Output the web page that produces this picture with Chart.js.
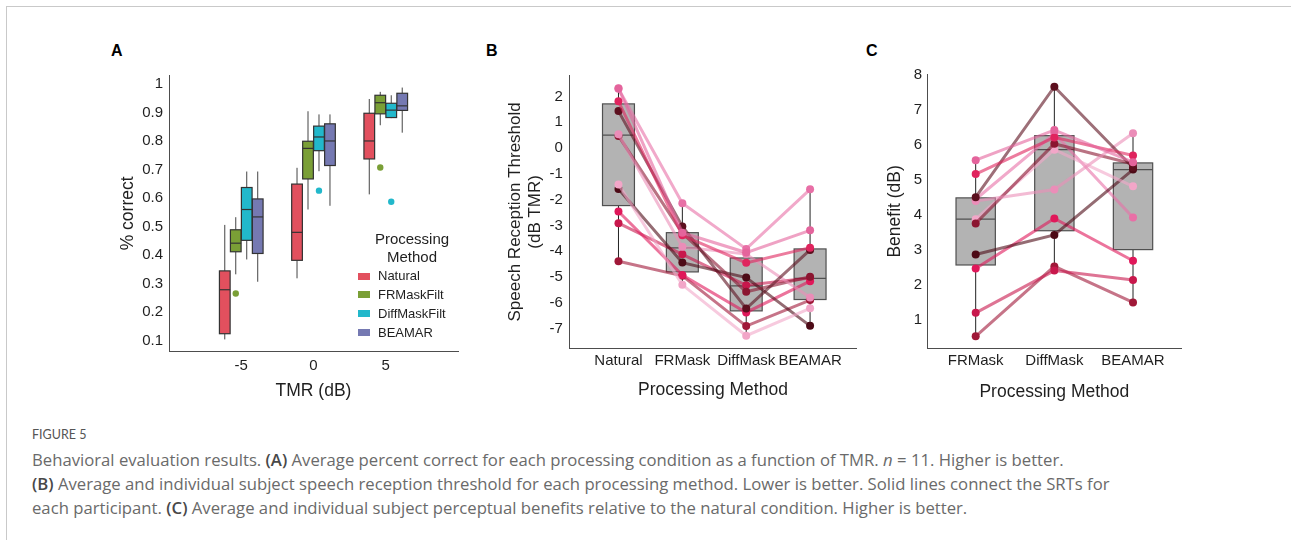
<!DOCTYPE html>
<html>
<head>
<meta charset="utf-8">
<script src="https://cdn.jsdelivr.net/npm/chart.js@4.4.1/dist/chart.umd.min.js"></script>
<style>
  body { margin: 0; background: #fff; width: 1291px; height: 540px; overflow: hidden; position: relative; font-family: "Liberation Sans", Arial, sans-serif; }
  .frame { position: absolute; left: 6px; top: 6px; width: 1400px; height: 700px; border-left: 1.5px solid #c9c9c9; border-top: 1.5px solid #c9c9c9; }
  canvas { position: absolute; }
  .panel { position: absolute; font: bold 16px "Liberation Sans", Arial, sans-serif; line-height: 16px; color: #000; }
  #legendA { position: absolute; left: 0; top: 0; font-family: "Liberation Sans", Arial, sans-serif; color: #1f1f1f; }
  .lg-title { position: absolute; left: 352px; top: 230px; width: 120px; text-align: center; font-size: 15px; line-height: 17.7px; }
  .lg-sw { position: absolute; width: 12px; height: 7px; }
  .lg-tx { position: absolute; font-size: 13px; line-height: 16px; white-space: nowrap; }
  .figno { position: absolute; left: 32px; top: 427px; font: 12.5px Lato, "Open Sans", sans-serif; color: #555; letter-spacing: 0; }
  .caption { position: absolute; left: 32px; top: 448px; margin: 0; font: 16.7px/24px "Open Sans", Lato, sans-serif; color: #6a6a6a; white-space: nowrap; }
  .caption b { color: #484848; font-weight: 600; }
</style>
</head>
<body>
<div class="frame"></div>
<div class="panel" style="left:111px; top:43px;">A</div>
<div class="panel" style="left:486px; top:43px;">B</div>
<div class="panel" style="left:866px; top:43px;">C</div>
<canvas id="chartA" width="370" height="350" style="left:100px; top:60px;"></canvas>
<canvas id="chartB" width="390" height="350" style="left:480px; top:60px;"></canvas>
<canvas id="chartC" width="331" height="350" style="left:860px; top:60px;"></canvas>
<div id="legendA"><div class="lg-title">Processing<br>Method</div></div>
<div class="figno">FIGURE 5</div>
<p class="caption">Behavioral evaluation results. <b>(A)</b> Average percent correct for each processing condition as a function of TMR. <i>n</i> = 11. Higher is better.<br><b>(B)</b> Average and individual subject speech reception threshold for each processing method. Lower is better. Solid lines connect the SRTs for<br>each participant. <b>(C)</b> Average and individual subject perceptual benefits relative to the natural condition. Higher is better.</p>
<script>
// ---- panel A: % correct vs TMR, box stats are [low whisker, q1, median, q3, high whisker]
const tmrLevels = [-5, 0, 5]
const methodsA = ['Natural', 'FRMaskFilt', 'DiffMaskFilt', 'BEAMAR']
const naturalStats = [[0.105, 0.125, 0.279, 0.345, 0.506], [0.319, 0.382, 0.480, 0.649, 0.706], [0.613, 0.737, 0.800, 0.897, 0.947]]
const frMaskFiltStats = [[0.333, 0.412, 0.442, 0.489, 0.533], [0.560, 0.667, 0.774, 0.799, 0.904], [0.855, 0.895, 0.934, 0.960, 0.972]]
const diffMaskFiltStats = [[0.385, 0.452, 0.560, 0.637, 0.693], [0.694, 0.766, 0.814, 0.852, 0.893], [0.880, 0.882, 0.908, 0.932, 0.960]]
const beamarStats = [[0.307, 0.406, 0.534, 0.597, 0.693], [0.573, 0.714, 0.800, 0.860, 0.893], [0.829, 0.907, 0.923, 0.967, 0.987]]
const frMaskFiltOutliers = [0.266, null, 0.707]
const diffMaskFiltOutliers = [null, 0.626, 0.587]
const pctTicks = [0.1, 0.2, 0.3, 0.4, 0.5, 0.6, 0.7, 0.8, 0.9, 1]

// ---- panel B: speech reception threshold per subject (dB TMR)
const srtCategories = ['Natural', 'FRMask', 'DiffMask', 'BEAMAR']
const srtSubjects = [
    [2.32, -3.28, -4.05, -3.19],
    [1.81, -3.38, -4.45, -3.86],
    [1.43, -3.04, -6.22, -3.95],
    [0.53, -3.83, -4.11, -5.79],
    [0.47, -3.30, -5.57, -4.99],
    [-1.41, -5.30, -7.27, -6.21],
    [-1.59, -4.44, -5.02, -6.89],
    [-2.46, -4.92, -6.37, -5.16],
    [-2.91, -4.12, -5.32, -5.04],
    [-4.39, -4.95, -6.90, -5.89],
    [2.30, -2.14, -3.91, -1.60]
]
const srtStats = [[-4.39, -2.23, 0.50, 1.71, 2.32], [-5.30, -4.80, -3.87, -3.28, -2.14], [-7.27, -6.31, -5.34, -4.26, -3.91], [-6.89, -5.87, -5.05, -3.91, -1.60]]
const srtTicks = [-7, -6, -5, -4, -3, -2, -1, 0, 1, 2]

// ---- panel C: benefit relative to natural (dB)
const benefitCategories = ['FRMask', 'DiffMask', 'BEAMAR']
const benefitSubjects = [
    [5.57, 6.43, 5.51],
    [5.17, 6.22, 5.70],
    [4.51, 7.67, 5.36],
    [4.40, 4.73, 6.34],
    [3.76, 6.04, 5.46],
    [3.88, 5.87, 4.82],
    [2.87, 3.43, 5.30],
    [2.47, 3.90, 2.69],
    [1.20, 2.41, 2.14],
    [0.53, 2.53, 1.50],
    [4.45, 6.33, 3.93]
]
const benefitStats = [[0.53, 2.57, 3.88, 4.49, 5.57], [2.41, 3.55, 5.87, 6.27, 7.67], [1.50, 3.01, 5.30, 5.49, 6.34]]
const benefitTicks = [1, 2, 3, 4, 5, 6, 7, 8]

// styles
const methodColors = ['#e2505e', '#7a9f36', '#22b8cb', '#7579b2']
const subjectColors = ['#e4649c', '#e0245e', '#5c0f1e', '#eb8db8', '#8b1530', '#f2a6c8', '#4d0a16', '#e0185a', '#c8184c', '#a01838', '#e86fa6']
const groupOffsets = [-1.14, -0.38, 0.38, 1.14]
const textColor = '#1f1f1f'
const tickFont = { family: '"Liberation Sans", Arial, sans-serif', size: 15 }
const titleFont = { family: '"Liberation Sans", Arial, sans-serif', size: 17.5 }

// draws box + whiskers + median through the chart's scales
function makeBoxPlugin(items, edge, whisker) {
    return {
        id: 'boxes',
        beforeDatasetsDraw(chart) {
            const { ctx, scales: { x, y } } = chart
            ctx.save()
            items.forEach(b => {
                const xl = x.getPixelForValue(b.x - b.w / 2)
                const xr = x.getPixelForValue(b.x + b.w / 2)
                const xc = x.getPixelForValue(b.x)
                const s = b.stats.map(v => y.getPixelForValue(v))
                ctx.strokeStyle = whisker
                ctx.lineWidth = 1
                ctx.beginPath()
                ctx.moveTo(xc, s[0]); ctx.lineTo(xc, s[1])
                ctx.moveTo(xc, s[3]); ctx.lineTo(xc, s[4])
                ctx.stroke()
                ctx.fillStyle = b.fill
                ctx.fillRect(xl, s[3], xr - xl, s[1] - s[3])
                ctx.strokeStyle = edge
                ctx.lineWidth = 1.2
                ctx.strokeRect(xl, s[3], xr - xl, s[1] - s[3])
                ctx.beginPath()
                ctx.moveTo(xl, s[2]); ctx.lineTo(xr, s[2])
                ctx.stroke()
            })
            ctx.restore()
        }
    }
}

function axis(opts) {
    return {
        type: 'linear',
        min: opts.min,
        max: opts.max,
        afterFit: s => { if (opts.height) s.height = opts.height; if (opts.width) s.width = opts.width },
        afterBuildTicks: s => { s.ticks = opts.ticks.map(v => ({ value: v })) },
        grid: { display: false, drawTicks: false },
        border: { color: '#4d4d4d', width: 1 },
        ticks: { padding: opts.pad, color: textColor, font: opts.tickFont || tickFont, callback: opts.label },
        title: { display: true, text: opts.title, color: textColor, font: opts.titleFont || titleFont, padding: opts.titlePad }
    }
}

function baseOptions(padding, x, y) {
    return {
        animation: false,
        responsive: false,
        devicePixelRatio: 1,
        layout: { padding: padding },
        plugins: { legend: { display: false }, tooltip: { enabled: false } },
        scales: { x: x, y: y }
    }
}

// ---- chart A
const statsA = [naturalStats, frMaskFiltStats, diffMaskFiltStats, beamarStats]
const boxesA = []
statsA.forEach((stats, m) => {
    tmrLevels.forEach((t, i) => {
        boxesA.push({ x: t + groupOffsets[m], w: 0.74, stats: stats[i], fill: methodColors[m] })
    })
})
function outlierPoints(vals, m) {
    const pts = []
    vals.forEach((v, i) => { if (v !== null) pts.push({ x: tmrLevels[i] + groupOffsets[m], y: v }) })
    return pts
}
new Chart(document.getElementById('chartA'), {
    type: 'scatter',
    data: {
        datasets: [
            { data: outlierPoints(frMaskFiltOutliers, 1), pointRadius: 3.2, pointBorderWidth: 0, pointBackgroundColor: methodColors[1] },
            { data: outlierPoints(diffMaskFiltOutliers, 2), pointRadius: 3.2, pointBorderWidth: 0, pointBackgroundColor: methodColors[2] }
        ]
    },
    options: baseOptions({ top: 12, right: 12, left: 0, bottom: 0 },
        axis({ min: -10, max: 10, ticks: tmrLevels, height: 58.3, pad: 5, label: v => String(v), title: 'TMR (dB)', titlePad: { top: 0, bottom: 8.8 } }),
        axis({ min: 0.062, max: 1.031, ticks: pctTicks, width: 69, pad: 6, label: v => String(+v.toFixed(1)), title: '% correct', titlePad: { top: 17.8, bottom: 0 } })),
    plugins: [makeBoxPlugin(boxesA, '#333333', '#444444')]
})

// legend A
const legendA = document.getElementById('legendA')
methodsA.forEach((name, m) => {
    const cy = 276 + m * 18.9
    const sw = document.createElement('div')
    sw.className = 'lg-sw'
    sw.style.left = '358px'
    sw.style.top = (cy - 3.5) + 'px'
    sw.style.background = methodColors[m]
    const tx = document.createElement('div')
    tx.className = 'lg-tx'
    tx.style.left = '378px'
    tx.style.top = (cy - 8) + 'px'
    tx.textContent = name
    legendA.appendChild(sw)
    legendA.appendChild(tx)
})

// ---- subject lines helper (B and C)
function subjectDatasets(subjects) {
    return subjects.map((vals, s) => ({
        data: vals.map((v, i) => ({ x: i, y: v })),
        showLine: true,
        borderColor: subjectColors[s] + '99',
        borderWidth: 3,
        pointRadius: 4,
        pointBorderWidth: 0,
        pointBackgroundColor: subjectColors[s]
    }))
}

// ---- chart B
new Chart(document.getElementById('chartB'), {
    type: 'scatter',
    data: { datasets: subjectDatasets(srtSubjects) },
    options: baseOptions({ top: 9.3, right: 13.3, left: 0, bottom: 0 },
        axis({ min: -0.77, max: 3.73, ticks: srtCategories.map((c, i) => i), height: 61.7, pad: 4, label: v => srtCategories[v], title: 'Processing Method', titlePad: { top: 0, bottom: 9.5 } }),
        axis({ min: -7.76, max: 2.81, ticks: srtTicks, width: 89.3, pad: 6.5, label: v => String(v), title: ['Speech Reception Threshold', '(dB TMR)'], titleFont: { family: titleFont.family, size: 17, lineHeight: 1.18 }, titlePad: { top: 25, bottom: 0 } })),
    plugins: [makeBoxPlugin(srtStats.map((st, i) => ({ x: i, w: 0.5, stats: st, fill: '#b3b3b3' })), '#505050', '#222222')]
})

// ---- chart C
new Chart(document.getElementById('chartC'), {
    type: 'scatter',
    data: { datasets: subjectDatasets(benefitSubjects) },
    options: baseOptions({ top: 9.3, right: 10, left: 0, bottom: 0 },
        axis({ min: -0.61, max: 2.61, ticks: benefitCategories.map((c, i) => i), height: 61.7, pad: 4, label: v => benefitCategories[v], title: 'Processing Method', titlePad: { top: 0, bottom: 7.8 } }),
        axis({ min: 0.186, max: 8.02, ticks: benefitTicks, width: 67.7, pad: 5.5, label: v => String(v), title: 'Benefit (dB)', titlePad: { top: 24.5, bottom: 0 } })),
    plugins: [makeBoxPlugin(benefitStats.map((st, i) => ({ x: i, w: 0.5, stats: st, fill: '#b3b3b3' })), '#505050', '#222222')]
})
</script>
</body>
</html>
